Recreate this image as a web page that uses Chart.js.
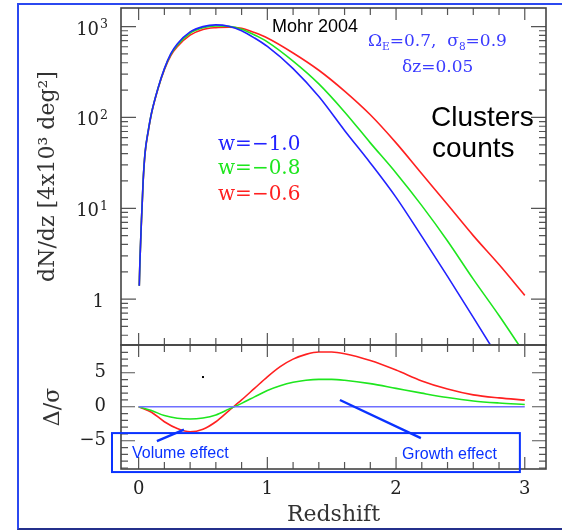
<!DOCTYPE html>
<html>
<head>
<meta charset="utf-8">
<script src="https://cdn.jsdelivr.net/npm/chart.js@4.4.1/dist/chart.umd.min.js"></script>
<style>
  html, body { margin: 0; padding: 0; background: #fff; }
  #wrap { position: relative; width: 562px; height: 530px; overflow: hidden; }
  #frame { position: absolute; left: 17px; top: 3px; width: 600px; height: 523px;
           border-left: 2px solid #2b48f0; border-top: 2px solid #2b48f0; border-bottom: 2px solid #24308c; }
  canvas { position: absolute; left: 0; }
  #top { top: 0; }
  #bottom { top: 340px; }
</style>
</head>
<body>
<div id="wrap">
  <div id="frame"></div>
  <canvas id="top" width="562" height="350"></canvas>
  <canvas id="bottom" width="562" height="190"></canvas>
</div>
<script>
// upper panel: cluster counts dN/dz vs redshift
const redshift = [0.005, 0.01, 0.02, 0.035, 0.05, 0.075, 0.1, 0.15, 0.2, 0.25, 0.3, 0.4, 0.5, 0.6, 0.7,
                  0.8, 0.9, 1.0, 1.2, 1.4, 1.6, 1.8, 2.0, 2.2, 2.4, 2.6, 2.8, 3.0];
const countsW10 = [1.4, 2.6, 6.3, 20, 41, 72, 112, 209, 345, 505, 645, 875, 1000, 1045, 1010,
                   900, 750, 605, 345, 170, 72, 31.6, 13.2, 4.9, 1.78, 0.63, 0.22, 0.075];
const countsW08 = [1.4, 2.6, 6.3, 20, 41, 72, 112, 208, 342, 495, 625, 845, 970, 1015, 1005,
                   935, 810, 680, 417, 234, 115, 52.5, 24.5, 10.7, 4.37, 1.66, 0.66, 0.25];
const countsW06 = [1.4, 2.6, 6.2, 19.5, 40, 70, 110, 205, 335, 480, 600, 805, 930, 975, 985,
                   960, 860, 750, 513, 331, 195, 107, 52.5, 24, 11, 5.0, 2.4, 1.1];
const countTicks = [1, 10, 100, 1000];
const countTickBase = ['1', '10', '10', '10'];
const countTickExp = ['', '1', '2', '3'];

// lower panel: significance of the difference to w = -1
const deltaZ = [0, 0.1, 0.2, 0.3, 0.4, 0.5, 0.6, 0.7, 0.8, 0.9, 1.0, 1.1, 1.2, 1.3, 1.4, 1.5, 1.6,
                1.8, 2.0, 2.2, 2.4, 2.6, 2.8, 3.0];
const deltaW10 = [0, 0, 0, 0, 0, 0, 0, 0, 0, 0, 0, 0, 0, 0, 0, 0, 0, 0, 0, 0, 0, 0, 0, 0];
const deltaW08 = [0, -0.55, -1.3, -1.7, -1.81, -1.65, -1.2, -0.35, 0.5, 1.45, 2.4, 3.1, 3.6, 3.9, 4.03,
                  4.03, 3.9, 3.4, 2.7, 2.0, 1.35, 0.85, 0.55, 0.34];
const deltaW06 = [0, -0.8, -2.2, -3.2, -3.68, -3.3, -2.2, -0.6, 1.0, 2.7, 4.4, 5.9, 7.0, 7.7, 8.05,
                  8.05, 7.8, 6.8, 5.4, 3.8, 2.6, 1.75, 1.3, 0.98];
const deltaTicks = [-5, 0, 5];
const deltaTickLabels = ['−5', '0', '5'];

const zTicks = [0, 1, 2, 3];
const zTickLabels = ['0', '1', '2', '3'];

const serif = 'DejaVu Serif';
const sans = 'Liberation Sans';
const BLUE = '#2222ff', GREEN = '#1ee61e', RED = '#ff2020';
const ANNOT = '#0a32ff';

const pts = (xs, ys) => xs.map((x, i) => ({x: x, y: ys[i]}));

// fixed axis box, no extra padding asked from the layout
const fixWidth = s => { s.width = 121; s.paddingTop = 0; s.paddingBottom = 0; };
const fixHeight = s => { s.height = 61; s.paddingLeft = 0; s.paddingRight = 0; };

// box frame with inward ticks on all four sides
const framePlugin = {
  id: 'frame',
  afterDatasetsDraw(chart, args, opts) {
    const {ctx, chartArea: a, scales} = chart;
    ctx.save();
    ctx.strokeStyle = '#555';
    ctx.lineWidth = 1.2;
    ctx.beginPath();
    for (let i = 0; i <= 15; i++) {
      const px = scales.x.getPixelForValue(i * 0.2);
      const len = i % 5 === 0 ? 12 : 7;
      ctx.moveTo(px, a.top); ctx.lineTo(px, a.top + len);
      ctx.moveTo(px, a.bottom); ctx.lineTo(px, a.bottom - len);
    }
    for (const t of opts.yTicks) {
      const py = scales.y.getPixelForValue(t.v);
      if (py < a.top + 1 || py > a.bottom - 1) continue;
      ctx.moveTo(a.left, py); ctx.lineTo(a.left + t.len, py);
      ctx.moveTo(a.right, py); ctx.lineTo(a.right - t.len, py);
    }
    ctx.stroke();
    ctx.lineWidth = 1.6;
    ctx.strokeStyle = '#444';
    ctx.strokeRect(a.left, a.top, a.right - a.left, a.bottom - a.top);
    ctx.restore();
  }
};

function drawRuns(ctx, x, y, runs, size, family, color) {
  ctx.save();
  ctx.fillStyle = color;
  ctx.textAlign = 'left';
  ctx.textBaseline = 'alphabetic';
  for (const r of runs) {
    const s = r.sub ? size * 0.62 : size;
    ctx.font = s + 'px "' + family + '"';
    ctx.fillText(r.t, x, r.sub ? y + size * 0.22 : y);
    x += ctx.measureText(r.t).width;
  }
  ctx.restore();
}

// power-of-ten tick labels with a real superscript
const powerLabels = {
  id: 'powerLabels',
  afterDraw(chart) {
    const {ctx, scales: {y}} = chart;
    ctx.save();
    ctx.fillStyle = '#222';
    ctx.textBaseline = 'alphabetic';
    ctx.textAlign = 'left';
    countTicks.forEach((v, i) => {
      const py = y.getPixelForValue(v);
      ctx.font = '18px "' + serif + '"';
      const wb = ctx.measureText(countTickBase[i]).width;
      ctx.font = '12.5px "' + serif + '"';
      const we = ctx.measureText(countTickExp[i]).width;
      const x0 = (countTickExp[i] ? 107 : 104) - wb - we;
      ctx.font = '18px "' + serif + '"';
      ctx.fillText(countTickBase[i], x0, py + 8);
      ctx.font = '12.5px "' + serif + '"';
      ctx.fillText(countTickExp[i], x0 + wb + 1, py + 1.5);
    });
    ctx.restore();
  }
};

const upperText = {
  id: 'upperText',
  afterDraw(chart) {
    const ctx = chart.ctx;
    drawRuns(ctx, 272, 32, [{t: 'Mohr 2004'}], 18, sans, '#000');
    drawRuns(ctx, 368, 46, [{t: 'Ω'}, {t: 'E', sub: true}, {t: '=0.7,  σ'}, {t: '8', sub: true}, {t: '=0.9'}], 17, serif, '#3b3bff');
    drawRuns(ctx, 402, 72, [{t: 'δz=0.05'}], 17, serif, '#3b3bff');
    drawRuns(ctx, 218, 150, [{t: 'w=−1.0'}], 20, serif, BLUE);
    drawRuns(ctx, 218, 174, [{t: 'w=−0.8'}], 20, serif, GREEN);
    drawRuns(ctx, 218, 200, [{t: 'w=−0.6'}], 20, serif, RED);
    drawRuns(ctx, 431, 126, [{t: 'Clusters'}], 28, sans, '#000');
    drawRuns(ctx, 432, 157, [{t: 'counts'}], 28, sans, '#000');
  }
};

// annotation box, pointers and labels in the lower panel, placed in data units
const notes = {
  box: [-0.207, -3.87, 2.962, -9.6],
  volumeLine: [0.142, -5.04, 0.352, -3.35],
  growthLine: [1.564, 0.99, 2.193, -4.6],
  volumeText: [-0.052, -7.6],
  growthText: [2.046, -7.7],
  dot: [0.5, 4.37]
};

const lowerNotes = {
  id: 'lowerNotes',
  afterDraw(chart) {
    const {ctx, scales: {x, y}} = chart;
    const X = v => x.getPixelForValue(v), Y = v => y.getPixelForValue(v);
    ctx.save();
    ctx.strokeStyle = ANNOT;
    ctx.lineWidth = 2;
    const b = notes.box;
    ctx.strokeRect(X(b[0]), Y(b[1]), X(b[2]) - X(b[0]), Y(b[3]) - Y(b[1]));
    ctx.lineWidth = 2.4;
    ctx.beginPath();
    for (const l of [notes.volumeLine, notes.growthLine]) {
      ctx.moveTo(X(l[0]), Y(l[1])); ctx.lineTo(X(l[2]), Y(l[3]));
    }
    ctx.stroke();
    ctx.fillStyle = '#000';
    ctx.fillRect(X(notes.dot[0]) - 1, Y(notes.dot[1]) - 1, 2, 2);
    ctx.restore();
    drawRuns(ctx, X(notes.volumeText[0]), Y(notes.volumeText[1]), [{t: 'Volume effect'}], 16, sans, ANNOT);
    drawRuns(ctx, X(notes.growthText[0]), Y(notes.growthText[1]), [{t: 'Growth effect'}], 16, sans, ANNOT);
  }
};

function line(label, xs, ys, color, width) {
  return {label: label, data: pts(xs, ys), borderColor: color, borderWidth: width || 1.6,
          pointRadius: 0, fill: false, cubicInterpolationMode: 'monotone'};
}

const logMinor = [];
for (let e = -1; e <= 3; e++) {
  for (let k = 1; k <= 9; k++) logMinor.push({v: k * Math.pow(10, e), len: k === 1 ? 15 : 7});
}
const linMinor = [];
for (let v = -9; v <= 9; v++) linMinor.push({v: v, len: v % 5 === 0 ? 14 : 7});

new Chart(document.getElementById('top'), {
  type: 'line',
  data: {
    datasets: [
      line('w=-1.0', redshift, countsW10, BLUE),
      line('w=-0.8', redshift, countsW08, GREEN),
      line('w=-0.6', redshift, countsW06, RED)
    ]
  },
  options: {
    responsive: false, animation: false, devicePixelRatio: 1,
    layout: {padding: {top: 8, right: 16, bottom: 5, left: 0}},
    plugins: {legend: {display: false}, tooltip: {enabled: false}, frame: {yTicks: logMinor}},
    scales: {
      x: {type: 'linear', min: -0.137, max: 3.165, bounds: 'data', display: false},
      y: {
        type: 'logarithmic', min: 0.3126, max: 1603, bounds: 'data', position: 'left',
        afterFit: fixWidth,
        afterBuildTicks: s => { s.ticks = countTicks.map(v => ({value: v})); },
        grid: {display: false, drawTicks: false}, border: {display: false},
        ticks: {display: false},
        title: {display: true, text: 'dN/dz [4x10³ deg²]', font: {family: serif, size: 22}, color: '#333',
                padding: {top: 35, bottom: 0}}
      }
    }
  },
  plugins: [framePlugin, powerLabels, upperText]
});

new Chart(document.getElementById('bottom'), {
  type: 'line',
  data: {
    datasets: [
      line('w=-1.0', deltaZ, deltaW10, '#6f6fff', 1.6),
      line('w=-0.8', deltaZ, deltaW08, GREEN),
      line('w=-0.6', deltaZ, deltaW06, RED)
    ]
  },
  options: {
    responsive: false, animation: false, devicePixelRatio: 1,
    layout: {padding: {top: 5, right: 16, bottom: 0, left: 0}},
    plugins: {legend: {display: false}, tooltip: {enabled: false}, frame: {yTicks: linMinor}},
    scales: {
      x: {
        type: 'linear', min: -0.137, max: 3.165, bounds: 'data', position: 'bottom',
        afterFit: fixHeight,
        afterBuildTicks: s => { s.ticks = zTicks.map(v => ({value: v})); },
        grid: {display: false, drawTicks: false}, border: {display: false},
        ticks: {callback: (v, i) => zTickLabels[i], font: {family: serif, size: 18}, color: '#222',
                padding: 10, maxRotation: 0, autoSkip: false},
        title: {display: true, text: 'Redshift', font: {family: serif, size: 22}, color: '#333',
                padding: {top: 0, bottom: 2}}
      },
      y: {
        type: 'linear', min: -9.15, max: 9.08, bounds: 'data', position: 'left',
        afterFit: fixWidth,
        afterBuildTicks: s => { s.ticks = deltaTicks.map(v => ({value: v})); },
        grid: {display: false, drawTicks: false}, border: {display: false},
        ticks: {callback: (v, i) => deltaTickLabels[i], font: {family: serif, size: 18}, color: '#222', padding: 15},
        title: {display: true, text: 'Δ/σ', font: {family: serif, size: 22}, color: '#333',
                padding: {top: 40, bottom: 0}}
      }
    }
  },
  plugins: [framePlugin, lowerNotes]
});
</script>
</body>
</html>
